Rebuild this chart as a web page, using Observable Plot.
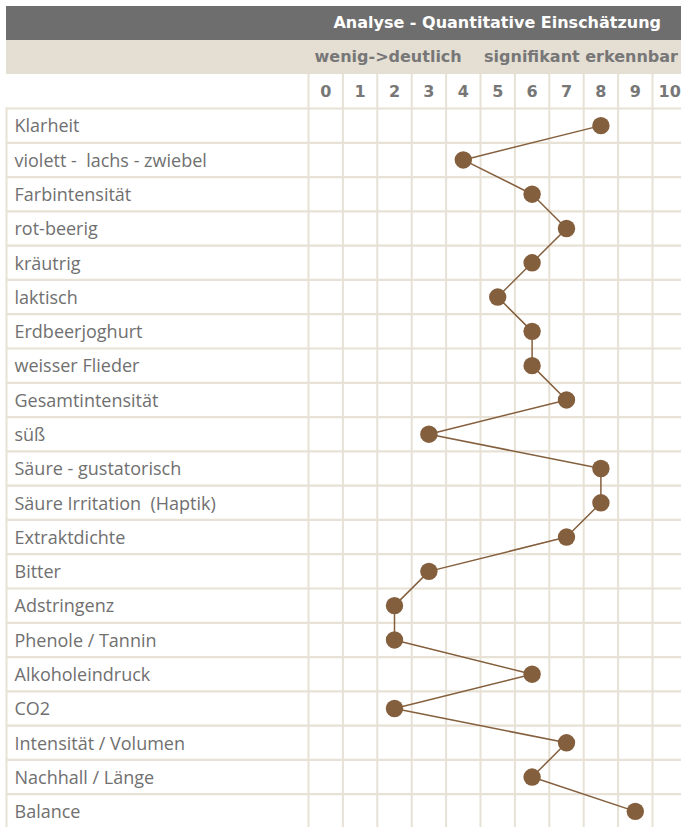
<!DOCTYPE html>
<html>
<head>
<meta charset="utf-8">
<script src="https://cdn.jsdelivr.net/npm/d3@7"></script>
<script src="https://cdn.jsdelivr.net/npm/@observablehq/plot@0.6"></script>
<style>
html, body { margin: 0; padding: 0; overflow: hidden; background: #fff; width: 681px; }
.bar { margin-left: 6px; height: 34px; line-height: 34px; text-align: right; white-space: pre;
  font-family: "DejaVu Sans", sans-serif; font-weight: bold; font-size: 16px; }
#title { margin-top: 6px; background: #6e6e6e; color: #fff; padding-right: 20px; }
#sub { background: #e4ded3; color: #777; padding-right: 3px; }
#chart svg text { white-space: pre; }
</style>
</head>
<body>
<div id="title" class="bar">Analyse - Quantitative Einschätzung</div>
<div id="sub" class="bar">wenig-&gt;deutlich    signifikant erkennbar</div>
<div id="chart"></div>
<script>
const labels = [
  "Klarheit", "violett -  lachs - zwiebel", "Farbintensität", "rot-beerig", "kräutrig",
  "laktisch", "Erdbeerjoghurt", "weisser Flieder", "Gesamtintensität", "süß",
  "Säure - gustatorisch", "Säure Irritation  (Haptik)", "Extraktdichte", "Bitter",
  "Adstringenz", "Phenole / Tannin", "Alkoholeindruck", "CO2", "Intensität / Volumen",
  "Nachhall / Länge", "Balance"
];
const values = [8, 4, 6, 7, 6, 5, 6, 6, 7, 3, 8, 8, 7, 3, 2, 2, 6, 2, 7, 6, 9];
const scaleTicks = [0, 1, 2, 3, 4, 5, 6, 7, 8, 9, 10];

const rows = labels.map((label, i) => ({label, value: values[i], i}));
const colEdges = d3.range(-0.5, 11, 1);
const rowEdges = d3.range(-0.5, labels.length, 1);

const grid = "#e7e1d6";
const brown = "#845f3d";

const chart = Plot.plot({
  width: 681,
  height: 754,
  marginTop: 34,
  marginBottom: 0,
  marginLeft: 6,
  marginRight: 0,
  x: {domain: [-0.5, 10.5], range: [308, 686.4], axis: null},
  y: {domain: [-0.5, labels.length - 0.5], range: [34, 754], axis: null},
  marks: [
    Plot.ruleY(rowEdges, {y: d => d, stroke: grid, strokeWidth: 2.2}),
    Plot.ruleX(colEdges, {x: d => d, stroke: grid, strokeWidth: 2, insetTop: -34}),
    Plot.frame({anchor: "left", stroke: grid, strokeWidth: 2}),
    Plot.text(scaleTicks, {x: d => d, frameAnchor: "top", dy: -17, text: d => String(d),
      fill: "#777", fontSize: 16, fontWeight: "bold", fontFamily: "DejaVu Sans", lineAnchor: "middle"}),
    Plot.text(rows, {y: "i", text: "label", frameAnchor: "left", dx: 8, dy: 1, textAnchor: "start",
      fill: "#707070", fontSize: 18, fontFamily: "Open Sans", lineAnchor: "middle"}),
    Plot.line(rows, {x: "value", y: "i", stroke: brown, strokeWidth: 1.5}),
    Plot.dot(rows, {x: "value", y: "i", r: 8.7, fill: brown, stroke: "none"})
  ]
});
document.getElementById("chart").append(chart);
</script>
</body>
</html>
